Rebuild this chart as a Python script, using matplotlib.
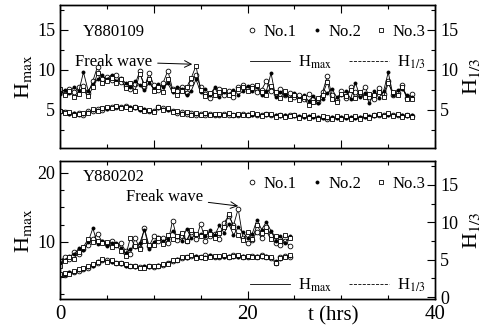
import matplotlib
matplotlib.use("Agg")
import matplotlib.pyplot as plt
from matplotlib.lines import Line2D
from matplotlib.ticker import MultipleLocator
import numpy as np

plt.rcParams['font.family'] = ['Liberation Serif', 'DejaVu Serif']
plt.rcParams['mathtext.fontset'] = 'stix'

# ---- Y880109 (upper panel), sampled every 0.5 h ----
t_top = np.arange(76) * 0.5

hmax_top_1 = [7.4, 7.0, 7.6, 7.2, 7.8, 8.0, 7.1, 8.6, 10.4, 8.9,
              9.1, 8.7, 9.3, 8.5, 8.0, 7.6, 8.2, 9.8, 7.8, 9.6,
              8.1, 7.5, 8.4, 9.9, 7.6, 7.3, 7.9, 7.1, 8.3, 9.4,
              7.8, 7.0, 6.5, 7.3, 7.6, 6.9, 7.4, 6.6, 7.8, 8.1,
              7.7, 8.0, 7.2, 7.5, 8.6, 7.4, 7.0, 7.6, 6.8, 7.1,
              6.6, 6.9, 6.3, 7.0, 6.4, 6.0, 7.2, 9.2, 6.8, 6.2,
              7.4, 6.5, 7.8, 7.2, 6.9, 7.9, 6.6, 6.3, 7.7, 7.0,
              8.6, 6.8, 7.1, 8.1, 6.5, 7.0]
hmax_top_2 = [7.0, 7.5, 7.1, 7.9, 7.3, 9.7, 7.4, 8.2, 8.8, 9.3,
              8.8, 9.4, 8.6, 9.0, 8.3, 7.9, 8.6, 8.1, 7.5, 8.4,
              7.6, 8.2, 7.8, 8.3, 7.2, 7.9, 7.6, 6.8, 7.4, 8.8,
              7.2, 7.6, 6.9, 7.8, 6.6, 7.2, 7.0, 7.5, 6.9, 7.3,
              8.0, 7.3, 7.9, 6.8, 7.3, 9.6, 6.6, 7.2, 6.9, 6.5,
              7.1, 6.4, 6.8, 6.1, 6.7, 5.8, 6.4, 7.1, 7.6, 6.6,
              6.9, 7.3, 6.4, 8.4, 6.6, 7.1, 5.8, 7.4, 6.5, 7.3,
              9.7, 6.9, 7.5, 7.6, 6.8, 6.6]
hmax_top_3 = [7.6, 6.8, 7.3, 6.6, 7.0, 7.5, 6.7, 7.8, 9.6, 8.3,
              8.6, 9.0, 8.4, 8.9, 7.7, 8.3, 7.4, 9.5, 8.2, 8.8,
              7.4, 7.9, 7.2, 8.8, 7.5, 6.9, 7.3, 7.8, 9.0, 10.5,
              7.5, 6.7, 7.1, 6.8, 7.2, 7.5, 6.9, 7.1, 7.6, 7.9,
              7.3, 7.7, 8.1, 7.2, 6.9, 8.0, 7.2, 6.5, 7.4, 6.3,
              6.8, 6.2, 6.6, 5.6, 6.0, 6.5, 6.9, 8.5, 6.3, 6.0,
              7.0, 6.7, 7.5, 6.5, 7.2, 6.6, 7.0, 6.8, 7.2, 6.6,
              8.3, 7.2, 6.9, 7.9, 6.4, 6.3]

h13_top_1 = [4.8, 4.7, 4.6, 4.5, 4.6, 4.4, 4.8, 4.9, 5.1, 5.0,
             5.2, 5.3, 5.4, 5.3, 5.5, 5.2, 5.3, 5.1, 5.0, 4.8,
             4.9, 5.3, 5.2, 5.1, 4.8, 4.6, 4.7, 4.5, 4.6, 4.4,
             4.5, 4.4, 4.5, 4.3, 4.4, 4.5, 4.4, 4.3, 4.4, 4.5,
             4.4, 4.5, 4.4, 4.3, 4.5, 4.4, 4.2, 4.3, 4.2, 4.3,
             4.3, 4.1, 4.2, 4.1, 4.2, 4.0, 4.1, 3.9, 4.0, 4.1,
             4.0, 4.1, 4.0, 4.1, 4.0, 4.2, 4.1, 4.3, 4.4, 4.3,
             4.5, 4.3, 4.4, 4.2, 4.3, 4.2]
h13_top_2 = [4.7, 4.6, 4.5, 4.6, 4.4, 4.5, 4.7, 5.0, 5.0, 5.1,
             5.1, 5.2, 5.3, 5.4, 5.3, 5.3, 5.2, 5.0, 5.1, 4.9,
             4.8, 5.2, 5.1, 5.0, 4.9, 4.7, 4.6, 4.6, 4.5, 4.5,
             4.4, 4.5, 4.4, 4.4, 4.3, 4.4, 4.5, 4.4, 4.3, 4.4,
             4.5, 4.4, 4.3, 4.4, 4.4, 4.3, 4.3, 4.2, 4.3, 4.2,
             4.2, 4.2, 4.1, 4.2, 4.1, 4.1, 4.0, 4.0, 4.1, 4.0,
             4.1, 4.0, 4.1, 4.0, 4.1, 4.1, 4.2, 4.2, 4.3, 4.4,
             4.4, 4.4, 4.3, 4.3, 4.2, 4.3]
h13_top_3 = [4.9, 4.6, 4.7, 4.4, 4.5, 4.6, 4.6, 5.1, 4.9, 5.2,
             5.3, 5.2, 5.5, 5.2, 5.4, 5.1, 5.4, 5.2, 4.9, 5.0,
             4.7, 5.4, 5.0, 5.2, 4.7, 4.8, 4.5, 4.7, 4.4, 4.6,
             4.3, 4.6, 4.3, 4.5, 4.5, 4.3, 4.6, 4.4, 4.5, 4.3,
             4.3, 4.6, 4.5, 4.2, 4.5, 4.5, 4.1, 4.4, 4.1, 4.2,
             4.4, 4.0, 4.3, 4.0, 4.3, 3.9, 4.2, 4.1, 3.9, 4.2,
             3.9, 4.2, 3.9, 4.2, 3.9, 4.3, 4.0, 4.4, 4.5, 4.2,
             4.6, 4.2, 4.5, 4.1, 4.4, 4.1]

# ---- Y880202 (lower panel), sampled every 0.5 h ----
t_bot = np.arange(50) * 0.5

hmax_bot_1 = [7.3, 7.8, 7.5, 8.6, 8.2, 9.0, 9.6, 10.4, 11.2, 10.0,
              9.7, 10.1, 9.5, 9.8, 8.7, 8.3, 10.6, 9.1, 12.0, 9.4,
              10.8, 10.2, 10.6, 9.8, 13.1, 10.3, 10.9, 10.1, 11.4, 10.5,
              12.6, 10.2, 10.8, 11.2, 10.4, 12.8, 13.8, 12.4, 14.8, 10.6,
              9.8, 10.3, 11.5, 10.6, 12.2, 11.0, 9.8, 9.5, 10.1, 9.4]
hmax_bot_2 = [7.0, 7.4, 8.0, 8.2, 9.1, 8.8, 10.0, 12.0, 9.7, 10.2,
              9.4, 9.8, 9.9, 9.2, 8.4, 9.0, 9.3, 9.8, 11.8, 9.0,
              10.0, 10.7, 10.1, 10.5, 11.6, 10.7, 10.2, 11.9, 10.6, 11.0,
              11.2, 10.9, 11.7, 11.0, 12.4, 11.3, 12.6, 11.0, 12.1, 11.4,
              10.6, 11.2, 13.2, 11.8, 12.9, 11.6, 10.2, 10.9, 9.9, 10.8]
hmax_bot_3 = [6.6, 7.2, 7.9, 7.6, 8.5, 9.3, 10.4, 10.0, 10.1, 9.8,
              10.0, 9.3, 9.6, 8.7, 8.0, 10.6, 9.4, 9.0, 10.2, 9.6,
              9.5, 10.6, 9.7, 11.0, 10.4, 10.9, 11.3, 10.2, 11.7, 11.2,
              10.8, 11.5, 11.1, 10.6, 11.3, 12.1, 14.0, 12.2, 11.0, 10.3,
              11.4, 10.5, 12.4, 11.3, 11.6, 10.4, 10.8, 10.1, 11.0, 10.6]

h13_bot_1 = [2.9, 3.0, 3.2, 3.4, 3.5, 3.8, 3.9, 4.3, 4.6, 5.0,
             4.9, 4.8, 4.6, 4.5, 4.3, 4.2, 4.1, 4.0, 4.0, 4.1,
             4.0, 4.2, 4.3, 4.5, 4.8, 5.0, 5.2, 5.4, 5.5, 5.4,
             5.3, 5.6, 5.5, 5.3, 5.4, 5.5, 5.3, 5.6, 5.5, 5.4,
             5.3, 5.5, 5.4, 5.6, 5.4, 5.2, 4.5, 5.4, 5.5, 5.4]
h13_bot_2 = [3.0, 2.9, 3.3, 3.3, 3.6, 3.7, 4.0, 4.2, 4.8, 4.9,
             4.8, 4.7, 4.5, 4.4, 4.2, 4.1, 4.0, 3.9, 4.1, 4.0,
             4.1, 4.3, 4.4, 4.6, 4.9, 5.1, 5.3, 5.2, 5.6, 5.5,
             5.4, 5.4, 5.6, 5.4, 5.3, 5.4, 5.5, 5.4, 5.3, 5.5,
             5.4, 5.3, 5.5, 5.4, 5.5, 5.3, 4.8, 5.1, 5.3, 5.5]
h13_bot_3 = [3.1, 3.2, 3.1, 3.5, 3.7, 3.9, 4.1, 4.4, 4.7, 5.1,
             4.7, 4.9, 4.5, 4.6, 4.4, 4.1, 4.2, 3.9, 3.9, 4.2,
             4.1, 4.1, 4.4, 4.4, 5.0, 5.0, 5.4, 5.3, 5.7, 5.2,
             5.4, 5.2, 5.3, 5.5, 5.5, 5.6, 5.4, 5.5, 5.6, 5.3,
             5.5, 5.4, 5.3, 5.5, 5.3, 5.4, 4.6, 5.2, 5.4, 5.6]

gauges = ["No.1", "No.2", "No.3"]
styles = [dict(marker='o', mfc='white', ms=3.4),
          dict(marker='o', mfc='black', ms=2.2),
          dict(marker='s', mfc='white', ms=3.2)]


def style_axes(ax, ax2):
    for a in (ax, ax2):
        a.tick_params(which='both', direction='in', top=True, labelsize=13)
        a.tick_params(which='major', length=6, width=0.8)
        a.tick_params(which='minor', length=3, width=0.8)
        for s in a.spines.values():
            s.set_linewidth(1.0)
    ax.tick_params(right=False)
    ax.xaxis.set_minor_locator(MultipleLocator(5))
    ax.yaxis.set_minor_locator(MultipleLocator(2.5))
    ax2.yaxis.set_minor_locator(MultipleLocator(2.5))
    ax.set_xlim(0, 40)


def draw(ax, ax2, t, hmax, h13):
    for hm, st in zip(hmax, styles):
        ax.plot(t, hm, color='black', lw=0.6, mec='black', mew=0.6, **st)
    for hs, st in zip(h13, styles):
        ax2.plot(t, hs, color='black', lw=0.4, ls='--', mec='black', mew=0.6, **st)


def add_legends(ax, y_marks, y_lines):
    mk = [Line2D([], [], ls='none', color='black', mec='black', mew=0.6, **st) for st in styles]
    leg1 = ax.legend(mk, gauges, ncol=3, loc='center right', bbox_to_anchor=(0.975, y_marks),
                     frameon=False, fontsize=12, handlelength=0.6, handletextpad=0.4,
                     columnspacing=0.9, borderpad=0, borderaxespad=0)
    ax.add_artist(leg1)
    ln = [Line2D([], [], color='black', lw=0.6), Line2D([], [], color='black', lw=0.6, ls='--')]
    ax.legend(ln, [r"H$_{\mathrm{max}}$", r"H$_{1/3}$"], ncol=2, loc='center right',
              bbox_to_anchor=(0.975, y_lines), frameon=False, fontsize=12,
              handlelength=2.4, handletextpad=0.5, columnspacing=1.0,
              borderpad=0, borderaxespad=0)


fig = plt.figure(figsize=(4.84, 3.28), dpi=100)
ax_top = fig.add_axes([0.124, 0.549, 0.775, 0.436])
ax_bot = fig.add_axes([0.124, 0.088, 0.775, 0.421])
ax_top2 = ax_top.twinx()
ax_bot2 = ax_bot.twinx()

# upper panel
draw(ax_top, ax_top2, t_top, [hmax_top_1, hmax_top_2, hmax_top_3],
     [h13_top_1, h13_top_2, h13_top_3])
style_axes(ax_top, ax_top2)
ax_top.set_ylim(0.25, 18.1)
ax_top2.set_ylim(0.25, 18.1)
ax_top.set_yticks([5, 10, 15])
ax_top2.set_yticks([5, 10, 15])
ax_top.xaxis.set_major_locator(MultipleLocator(10))
ax_top.tick_params(labelbottom=False)
ax_top.set_ylabel(r"H$_{\mathrm{max}}$", fontsize=16, labelpad=2)
ax_top2.set_ylabel(r"H$_{1/3}$", fontsize=16, labelpad=2)
ax_top.text(0.061, 0.81, "Y880109", transform=ax_top.transAxes, fontsize=12, va='center')
ax_top.annotate("Freak wave", xy=(14.1, 10.7), xytext=(1.6, 11.0), fontsize=12, va='center',
                arrowprops=dict(arrowstyle='->', lw=0.7, color='black', shrinkA=2, shrinkB=0))
add_legends(ax_top, 0.81, 0.60)

# lower panel
draw(ax_bot, ax_bot2, t_bot, [hmax_bot_1, hmax_bot_2, hmax_bot_3],
     [h13_bot_1, h13_bot_2, h13_bot_3])
style_axes(ax_bot, ax_bot2)
ax_bot.set_ylim(1.74, 21.7)
ax_bot2.set_ylim(-0.27, 18.2)
ax_bot.set_yticks([10, 20])
ax_bot2.set_yticks([0, 5, 10, 15])
ax_bot.set_xticks([0, 20, 40])
ax_bot.tick_params(axis='x', labelsize=15, pad=4)
ax_bot.set_ylabel(r"H$_{\mathrm{max}}$", fontsize=16, labelpad=2)
ax_bot2.set_ylabel(r"H$_{1/3}$", fontsize=16, labelpad=2)
ax_bot.set_xlabel("t (hrs)", fontsize=15)
ax_bot.xaxis.set_label_coords(0.728, -0.055)
ax_bot.text(0.061, 0.884, "Y880202", transform=ax_bot.transAxes, fontsize=12, va='center')
ax_bot.annotate("Freak wave", xy=(19.0, 15.2), xytext=(7.0, 16.5), fontsize=12, va='center',
                arrowprops=dict(arrowstyle='->', lw=0.7, color='black', shrinkA=2, shrinkB=0))
add_legends(ax_bot, 0.833, 0.10)

fig.savefig("out.png", dpi=100)
